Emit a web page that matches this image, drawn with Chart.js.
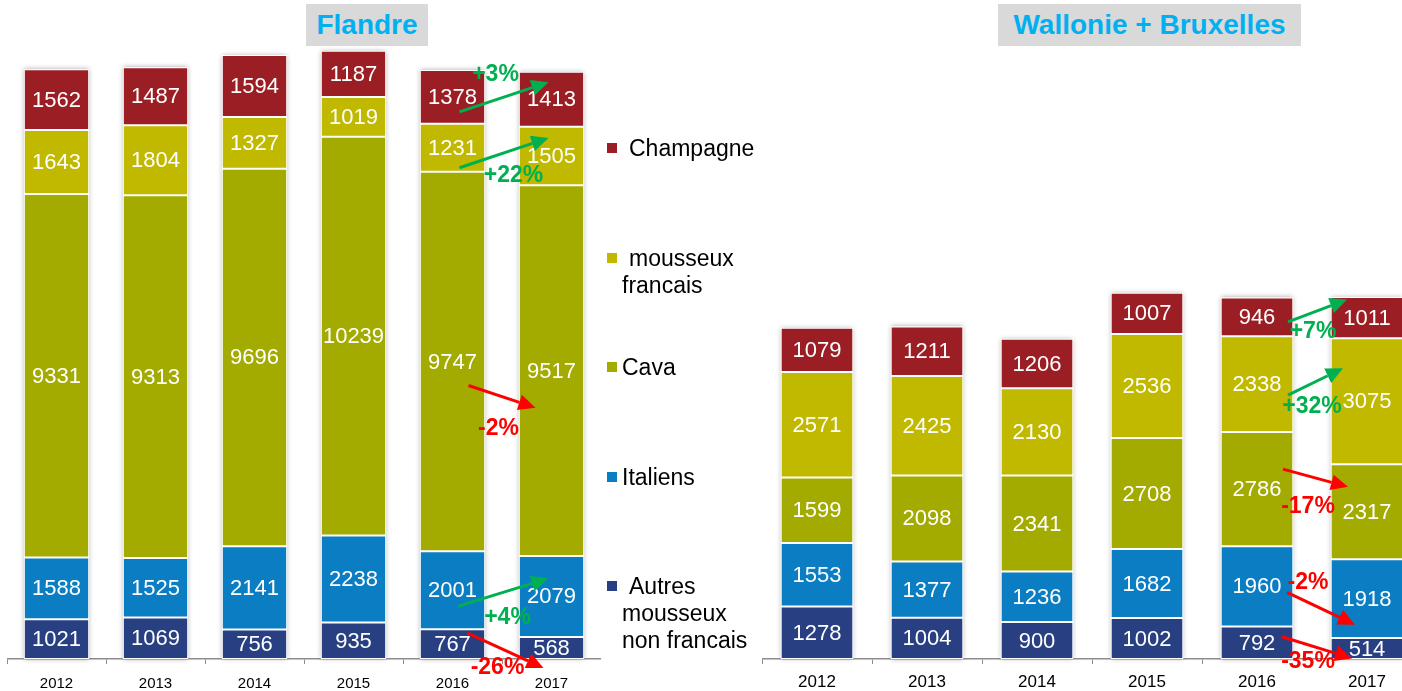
<!DOCTYPE html>
<html>
<head>
<meta charset="utf-8">
<script src="https://cdn.jsdelivr.net/npm/chart.js@4.4.0/dist/chart.umd.min.js"></script>
<style>
  html, body { margin: 0; padding: 0; background: #fff; }
  body { width: 1402px; height: 691px; overflow: hidden; position: relative; font-family: "Liberation Sans", Arial, sans-serif; }
  .title { position: absolute; top: 4px; height: 42px; line-height: 42px; background: #d9d9d9; color: #00b0f0; font-weight: bold; font-size: 28px; text-align: center; }
  canvas { position: absolute; top: 0; }
  .item { position: absolute; left: 607px; width: 170px; }
  .sq { position: absolute; left: 0; top: 8px; width: 10px; height: 10px; }
  .txt { position: absolute; left: 15px; width: 145px; font-size: 23px; line-height: 27px; color: #000; }
</style>
</head>
<body>
<div class="title" style="left:306px;width:122px;">Flandre</div>
<div class="title" style="left:998px;width:303px;">Wallonie + Bruxelles</div>
<canvas id="flandre" width="594" height="699" style="left:7px"></canvas>
<canvas id="wallonie" width="660" height="699" style="left:762px"></canvas>
<div id="legend"></div>
<script>
const years = ['2012', '2013', '2014', '2015', '2016', '2017'];
// series listed bottom to top of the stack
const series = ['Autres mousseux non francais', 'Italiens', 'Cava', 'mousseux francais', 'Champagne'];
const colors = ['#283f82', '#0a7dc3', '#a3ab00', '#c0b900', '#9b1e24'];

const flAutres    = [1021, 1069, 756, 935, 767, 568];
const flItaliens  = [1588, 1525, 2141, 2238, 2001, 2079];
const flCava      = [9331, 9313, 9696, 10239, 9747, 9517];
const flMousseux  = [1643, 1804, 1327, 1019, 1231, 1505];
const flChampagne = [1562, 1487, 1594, 1187, 1378, 1413];

const waAutres    = [1278, 1004, 900, 1002, 792, 514];
const waItaliens  = [1553, 1377, 1236, 1682, 1960, 1918];
const waCava      = [1599, 2098, 2341, 2708, 2786, 2317];
const waMousseux  = [2571, 2425, 2130, 2536, 2338, 3075];
const waChampagne = [1079, 1211, 1206, 1007, 946, 1011];

// 2016 -> 2017 change, same order as series
const flChanges = ['-26%', '+4%', '-2%', '+22%', '+3%'];
const waChanges = ['-35%', '-2%', '-17%', '+32%', '+7%'];

// arrow nudges: [startDx, startDy, endDx, endDy, textDx, textDy]
const flArrows = [
  [15, -11, -8, 20, 30, 35],
  [6, 16, -3, -18, 49, 11],
  [16, 24, -16, 37, 30, 43],
  [7, 20, -3, -18, 54, 8],
  [7, 15, -3, -17, 36, -37]
];
const waArrows = [
  [25, -6, -15, 10, 26, 25],
  [30, 6, -12, 26, 21, -10],
  [26, -20, -19, -25, 25, 38],
  [31, 11, -24, -33, 24, 12],
  [31, 5, -20, -18, 25, 10]
];

const FONT = '"Liberation Sans", Arial, sans-serif';

// legend, top entry first
const indent = { 'Champagne': 7, 'mousseux francais': 7, 'Autres mousseux non francais': 7 };
const legend = document.getElementById('legend');
series.slice().reverse().forEach((name, i) => {
  const c = colors[series.indexOf(name)];
  const it = document.createElement('div');
  it.className = 'item';
  it.style.top = (135 + i * 109.5) + 'px';
  it.innerHTML = `<div class="sq" style="background:${c}"></div>` +
    `<div class="txt" style="text-indent:${indent[name] || 0}px">${name}</div>`;
  legend.appendChild(it);
});

const stackShadow = {
  id: 'stackShadow',
  beforeDatasetsDraw(chart) {
    const ctx = chart.ctx;
    const first = chart.getDatasetMeta(0).data;
    const last = chart.getDatasetMeta(chart.data.datasets.length - 1).data;
    ctx.save();
    ctx.shadowColor = 'rgba(0,0,0,0.35)';
    ctx.shadowBlur = 5;
    ctx.fillStyle = '#fff';
    first.forEach((el, i) => {
      const top = last[i].y;
      ctx.fillRect(el.x - el.width / 2, top, el.width, el.base - top);
    });
    ctx.restore();
  }
};

const valueLabels = {
  id: 'valueLabels',
  afterDatasetsDraw(chart) {
    const ctx = chart.ctx;
    ctx.save();
    ctx.fillStyle = '#fff';
    ctx.font = '22px ' + FONT;
    ctx.textAlign = 'center';
    ctx.textBaseline = 'middle';
    chart.data.datasets.forEach((ds, d) => {
      chart.getDatasetMeta(d).data.forEach((el, i) => {
        ctx.fillText(String(ds.data[i]), el.x, (el.y + el.base) / 2 + 1);
      });
    });
    ctx.restore();
  }
};

function arrow(ctx, x0, y0, x1, y1, color) {
  const a = Math.atan2(y1 - y0, x1 - x0);
  const hl = 17, hw = 8;
  const bx = x1 - hl * Math.cos(a), by = y1 - hl * Math.sin(a);
  ctx.strokeStyle = color;
  ctx.fillStyle = color;
  ctx.lineWidth = 3;
  ctx.beginPath();
  ctx.moveTo(x0, y0);
  ctx.lineTo(bx, by);
  ctx.stroke();
  ctx.beginPath();
  ctx.moveTo(x1, y1);
  ctx.lineTo(bx + hw * Math.sin(a), by - hw * Math.cos(a));
  ctx.lineTo(bx - hw * Math.sin(a), by + hw * Math.cos(a));
  ctx.closePath();
  ctx.fill();
}

const changeArrows = {
  id: 'changeArrows',
  afterDraw(chart, args, opts) {
    const ctx = chart.ctx;
    ctx.save();
    opts.changes.forEach((txt, d) => {
      const els = chart.getDatasetMeta(d).data;
      const a = els[4], b = els[5];
      const n = opts.nudges[d];
      const color = txt[0] === '+' ? '#00b050' : '#ff0000';
      const x0 = a.x + n[0], y0 = (a.y + a.base) / 2 + n[1];
      const x1 = b.x + n[2], y1 = (b.y + b.base) / 2 + n[3];
      arrow(ctx, x0, y0, x1, y1, color);
      ctx.fillStyle = color;
      ctx.font = 'bold 23px ' + FONT;
      ctx.textAlign = 'center';
      ctx.textBaseline = 'middle';
      ctx.fillText(txt, x0 + n[4], y0 + n[5]);
    });
    ctx.restore();
  }
};

function makeChart(id, values, max, tickSize, tickPad, changes, nudges) {
  return new Chart(document.getElementById(id), {
    type: 'bar',
    data: {
      labels: years,
      datasets: series.map((name, i) => ({
        label: name,
        data: values[i],
        backgroundColor: colors[i],
        borderColor: '#fff',
        borderWidth: 1,
        borderSkipped: false,
        categoryPercentage: 1,
        barPercentage: 0.66
      }))
    },
    options: {
      responsive: false,
      animation: false,
      layout: { padding: { top: 36, left: 0, right: 0, bottom: 0 } },
      plugins: {
        legend: { display: false },
        tooltip: { enabled: false },
        changeArrows: { changes, nudges }
      },
      scales: {
        x: {
          stacked: true,
          grid: { drawOnChartArea: false, drawTicks: true, tickLength: 5, color: '#8c8c8c' },
          border: { color: '#8c8c8c', width: 1.5 },
          ticks: { color: '#000', padding: tickPad, font: { family: FONT, size: tickSize } },
          afterFit: s => { s.height = 40; }
        },
        y: { stacked: true, display: false, min: 0, max }
      }
    },
    plugins: [stackShadow, valueLabels, changeArrows]
  });
}

makeChart('flandre', [flAutres, flItaliens, flCava, flMousseux, flChampagne], 16000, 15, 11, flChanges, flArrows);
makeChart('wallonie', [waAutres, waItaliens, waCava, waMousseux, waChampagne], 15200, 17, 8, waChanges, waArrows);
</script>
</body>
</html>
